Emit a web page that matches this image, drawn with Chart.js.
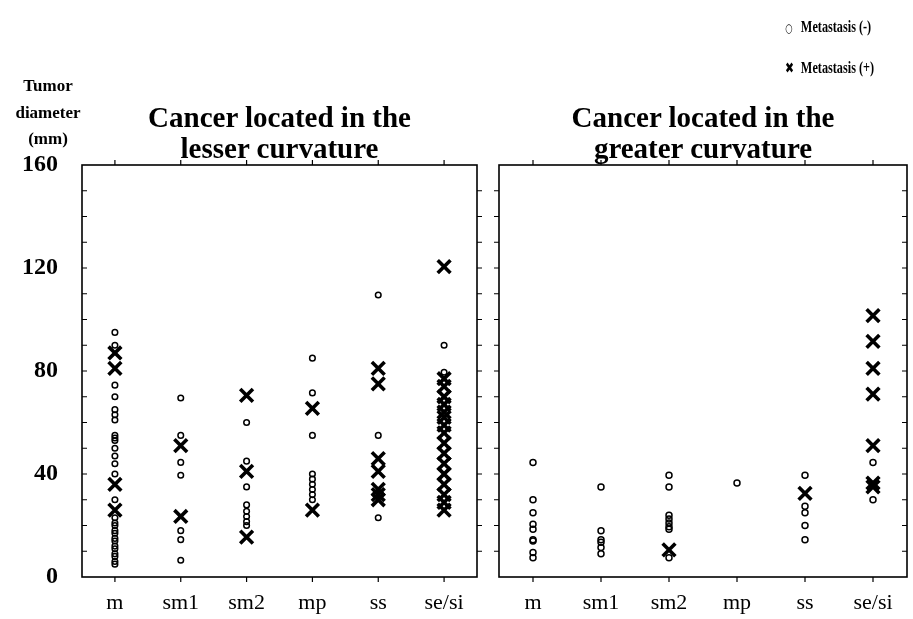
<!DOCTYPE html>
<html>
<head>
<meta charset="utf-8">
<script src="https://cdn.jsdelivr.net/npm/chart.js@4.4.1/dist/chart.umd.min.js"></script>
<style>
html,body{margin:0;padding:0;background:#fff;}
body{width:913px;height:619px;position:relative;overflow:hidden;font-family:"Liberation Serif","Times New Roman",serif;font-weight:bold;color:#000;}
canvas{position:absolute;top:0;}
#c1{left:0;}
#c2{left:485px;}
.txt{position:absolute;white-space:nowrap;}
.title{font-size:29px;line-height:31px;text-align:center;transform:translateX(-50%);top:102px;}
.ylab{left:48px;top:73px;font-size:17px;line-height:26.5px;text-align:center;transform:translateX(-50%);}
.leg{left:785px;font-size:17px;line-height:20px;transform:scaleX(0.72);transform-origin:left center;}
.leg .sym{display:inline-block;width:22px;font-family:"DejaVu Sans",sans-serif;}
</style>
</head>
<body>
<canvas id="c1" width="485" height="619"></canvas>
<canvas id="c2" width="428" height="619"></canvas>
<div class="txt ylab">Tumor<br>diameter<br>(mm)</div>
<div class="txt title" style="left:279.5px">Cancer located in the<br>lesser curvature</div>
<div class="txt title" style="left:703px">Cancer located in the<br>greater curvature</div>
<div class="txt leg" style="top:17px"><span class="sym" style="font-size:12px">○</span>Metastasis (-)</div>
<div class="txt leg" style="top:58px"><span class="sym" style="font-size:15px">✖</span>Metastasis (+)</div>
<script>
// categories (depth of invasion) and tumour diameters in mm, one inner array per category
const categories = ['m', 'sm1', 'sm2', 'mp', 'ss', 'se/si'];
const yMin = 0, yMax = 160, yStep = 10, yLabelStep = 40;

// lesser curvature
const lesserNeg = [
  [95, 90, 74.5, 70, 65, 63, 61, 55, 54, 53, 50, 47, 44, 40, 30, 23, 21, 20, 18, 17, 15, 14, 12, 11, 9, 8, 6, 5],
  [69.5, 55, 44.5, 39.5, 18, 14.5, 6.5],
  [60, 45, 35, 28, 25.5, 23.5, 21.5, 20],
  [85, 71.5, 55, 40, 38, 36, 34, 32, 30],
  [109.5, 55, 23],
  [90, 79.5]
];
const lesserPos = [
  [87, 81, 36, 26],
  [51, 23.5],
  [70.5, 41, 15.5],
  [65.5, 26],
  [81, 75, 46, 41, 34, 32, 30],
  [120.5, 77, 74, 70, 67, 64, 62, 59, 56, 52, 48, 44, 40, 36, 32, 29, 26]
];

// greater curvature
const greaterNeg = [
  [44.5, 30, 25, 20.5, 18.5, 14.5, 14, 9.5, 7.5],
  [35, 18, 14.5, 13.5, 11.5, 9],
  [39.5, 35, 24, 22.5, 21, 19.5, 18.5, 7.5],
  [36.5],
  [39.5, 27.5, 25, 20, 14.5],
  [44.5, 30]
];
const greaterPos = [
  [],
  [],
  [10.5],
  [],
  [32.5],
  [101.5, 91.5, 81, 71, 51, 36.5, 35]
];

function toPoints(groups) {
  return groups.flatMap((vals, i) => vals.map(v => ({x: categories[i], y: v})));
}

// frame round the plot area with short tick marks (y every 10 mm, x at each category)
const framePlugin = {
  id: 'frame',
  afterDatasetsDraw(chart, args, opts) {
    const {ctx, chartArea: a, scales: {x, y}} = chart;
    ctx.save();
    ctx.strokeStyle = '#000';
    ctx.lineWidth = 1.6;
    ctx.strokeRect(a.left, a.top, a.right - a.left, a.bottom - a.top);
    ctx.beginPath();
    ctx.lineWidth = 1.2;
    y.ticks.forEach(t => {
      const py = y.getPixelForValue(t.value);
      if (t.value === yMin || t.value === yMax) return;
      ctx.moveTo(a.left, py); ctx.lineTo(a.left + opts.leftTick, py);
      ctx.moveTo(a.right, py); ctx.lineTo(a.right + opts.rightTick, py);
    });
    x.ticks.forEach((t, i) => {
      const px = x.getPixelForTick(i);
      ctx.moveTo(px, a.top); ctx.lineTo(px, a.top - 5);
      ctx.moveTo(px, a.bottom); ctx.lineTo(px, a.bottom + 5);
    });
    ctx.stroke();
    ctx.restore();
  }
};

function makeChart(id, neg, pos, cfg) {
  return new Chart(document.getElementById(id), {
    type: 'scatter',
    data: {
      datasets: [
        {label: 'Metastasis (-)', data: toPoints(neg), pointStyle: 'circle', pointRadius: cfg.circleR,
         borderColor: '#000', backgroundColor: 'rgba(255,255,255,0)', borderWidth: 1.5},
        {label: 'Metastasis (+)', data: toPoints(pos), pointStyle: 'crossRot', pointRadius: 9,
         borderColor: '#000', backgroundColor: '#000', borderWidth: 3.6}
      ]
    },
    options: {
      responsive: false,
      animation: false,
      events: [],
      layout: {autoPadding: false, padding: {top: 165, right: cfg.right, left: 0, bottom: 0}},
      plugins: {legend: {display: false}, tooltip: {enabled: false}, frame: cfg.ticks},
      scales: {
        x: {
          type: 'category', labels: categories, offset: true,
          grid: {display: false, drawTicks: false}, border: {display: false},
          ticks: {color: '#000', padding: 13, autoSkip: false, maxRotation: 0,
                  font: {family: 'Liberation Serif', size: 22, weight: 'normal'}},
          afterFit: s => { s.height = 42; s.paddingLeft = 0; s.paddingRight = 0; }
        },
        y: {
          min: yMin, max: yMax,
          grid: {display: false, drawTicks: false}, border: {display: false},
          ticks: {display: cfg.yLabels, stepSize: yStep, autoSkip: false, color: '#000', padding: 24,
                  font: {family: 'Liberation Serif', size: 24, weight: 'bold'},
                  callback: v => (v % yLabelStep === 0 ? v : '')},
          afterFit: s => { s.width = cfg.yWidth; s.paddingTop = 0; s.paddingBottom = 0; }
        }
      }
    },
    plugins: [framePlugin]
  });
}

makeChart('c1', lesserNeg, lesserPos, {circleR: 2.8, right: 8, yWidth: 82, yLabels: true, ticks: {leftTick: 5, rightTick: 5}});
makeChart('c2', greaterNeg, greaterPos, {circleR: 3, right: 6, yWidth: 14, yLabels: false, ticks: {leftTick: -5, rightTick: -5}});
</script>
</body>
</html>
